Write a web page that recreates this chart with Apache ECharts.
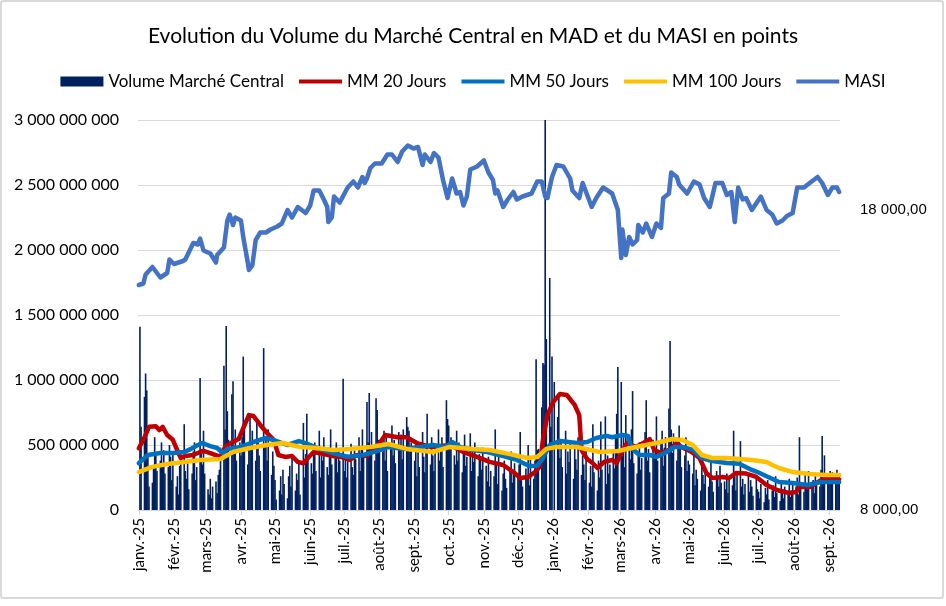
<!DOCTYPE html>
<html lang="fr">
<head>
<meta charset="utf-8">
<title>Volume du Marché Central et MASI</title>
<script src="https://cdn.jsdelivr.net/npm/echarts@6.0.0/dist/echarts.min.js"></script>
</head>
<body style="margin:0;background:#fff;width:946px;height:606px;overflow:hidden;">
<div style="position:absolute;left:0;top:0;width:940px;height:595px;border:2px solid #d9d9d9;border-radius:3px;"></div>
<div id="chart" style="position:absolute;left:0;top:0;width:946px;height:606px;"></div>
<script>
// volumes journaliers en millions de MAD, un tableau par mois (jours ouvrés)
var volume2025 = [
  [null, 1410, 640, 870, 1050, 920, 420, 180, 210, 330, 560, 440, 300, 380, 520, 350, 460, 280, 330, 500, 410, 230, 450],
  [180, 260, 120, 340, 410, 660, 300, 240, 380, 160, 280, 450, 520, 230, 330, 1015, 470, 350, 610, 280],
  [160, 120, 240, 90, 180, 220, 130, 270, 310, 480, 1110, 620, 1415, 760, 540, 890, 990, 450, 620, 380, 520],
  [420, 560, 1180, 680, 350, 520, 740, 460, 610, 380, 700, 540, 420, 300, 1245, 480, 560, 380, 620, 270, 450, 340],
  [230, 80, 150, 260, 120, 310, 200, 90, 260, 340, 180, 410, 150, 280, 230, 360, 120, 670, 250, 430, 740, 380],
  [360, 280, 450, 520, 300, 610, 250, 420, 380, 560, 330, 270, 480, 620, 350, 400, 520, 290, 460, 380, 1010],
  [300, 420, 250, 380, 510, 330, 270, 460, 390, 560, 300, 480, 620, 410, 830, 520, 900, 470, 600, 380, 860, 770, 540],
  [520, 450, 610, 380, 560, 300, 480, 650, 420, 540, 360, 600, 470, 580, 390, 620, 715, 640, 610, 450, 520],
  [380, 520, 260, 450, 330, 600, 410, 290, 480, 740, 350, 560, 420, 300, 510, 620, 380, 470, 560, 330, 845, 700],
  [650, 480, 560, 420, 350, 610, 380, 520, 290, 460, 580, 340, 410, 590, 300, 450, 370, 520, 260, 430, 390, 310, 480],
  [340, 220, 410, 180, 300, 260, 620, 350, 200, 430, 150, 280, 380, 240, 170, 320, 450, 210, 290, 360],
  [280, 350, 600, 230, 180, 320, 260, 500, 190, 410, 240, 380, 1160, 460, 470, 790, 1130, 1120, 3000, 1315, 1785, 640, 1180]
];
var volume2026 = [
  [null, 985, 715, 900, 400, 520, 330, 610, 280, 450, 370, 520, 240, 480, 390, 310, 560, 270, 420, 350, 230, 460],
  [210, 340, 180, 660, 290, 150, 380, 250, 680, 310, 720, 200, 420, 280, 350, 450, 320, 560, 740, 1100],
  [985, 420, 560, 330, 730, 480, 390, 620, 915, 360, 280, 450, 520, 310, 400, 600, 845, 380, 470, 290, 540, 420],
  [450, 720, 380, 520, 610, 340, 480, 560, 780, 1300, 620, 440, 590, 380, 510, 650, 470, 330, 420, 560, 300, 380],
  [350, 280, 420, 190, 310, 240, 150, 360, 270, 200, 330, 180, 260, 390, 220, 140, 300, 250, 180, 340, 210],
  [220, 160, 280, 130, 240, 190, 610, 260, 150, 300, 530, 180, 240, 120, 200, 270, 140, 230, 180, 110, 250, 160],
  [140, 90, 200, 60, 170, 120, 230, 80, 150, 190, 100, 260, 130, 70, 210, 160, 90, 180, 120, 240, 100, 150, 200],
  [180, 250, 120, 560, 200, 140, 280, 210, 160, 300, 190, 230, 130, 270, 220, 180, 310, 570, 240, 420, 260],
  [280, 300, 250, 290, 230, 310, 270, 260]
];

// moyennes mobiles (millions MAD) et MASI (points) : [jours depuis le 1er janv. 2025, valeur]
var mm20 = [[0,475],[4,540],[9,640],[15,645],[18,615],[21,640],[25,577],[30,540],[33,477],[37,400],[41,415],[48,423],[54,446],[57,455],[63,438],[72,408],[76,485],[81,515],[88,546],[92,630],[97,730],[101,723],[107,654],[113,592],[119,538],[123,423],[129,408],[135,415],[140,370],[145,360],[149,400],[154,446],[163,430],[171,415],[178,408],[186,385],[192,423],[201,415],[210,485],[217,577],[228,560],[236,560],[245,515],[257,485],[274,500],[286,446],[298,408],[309,370],[321,346],[330,292],[336,246],[343,254],[349,292],[353,330],[356,538],[360,730],[365,830],[371,892],[377,885],[382,830],[384,808],[388,730],[390,462],[395,392],[400,360],[404,323],[410,370],[417,385],[421,360],[425,438],[430,515],[438,485],[446,523],[450,546],[454,462],[460,438],[467,462],[474,515],[478,485],[487,446],[494,400],[500,285],[505,246],[514,254],[520,246],[526,285],[535,280],[544,254],[553,192],[562,154],[573,131],[579,138],[582,177],[591,177],[601,230],[610,246],[617,235]];
var mm50 = [[0,360],[8,423],[19,438],[30,438],[40,446],[46,470],[52,500],[56,515],[63,492],[69,477],[74,438],[78,470],[90,485],[101,523],[112,554],[119,538],[131,500],[141,530],[147,515],[157,477],[171,438],[184,410],[198,423],[213,462],[220,485],[233,470],[248,485],[259,500],[270,485],[276,523],[283,485],[294,462],[307,446],[321,415],[333,385],[344,338],[351,340],[356,400],[362,500],[371,530],[386,515],[395,523],[403,554],[412,570],[417,560],[426,577],[431,570],[434,477],[441,423],[450,423],[456,408],[465,446],[472,485],[479,485],[488,462],[496,400],[505,377],[518,362],[529,355],[540,308],[545,292],[553,260],[564,215],[576,208],[589,192],[601,215],[617,215]];
var mm100 = [[0,292],[11,330],[25,354],[40,370],[54,385],[72,392],[83,446],[98,477],[113,500],[127,515],[142,485],[157,477],[171,462],[186,470],[204,485],[220,508],[236,470],[259,446],[274,485],[294,470],[309,462],[327,430],[342,400],[351,408],[359,470],[368,485],[386,485],[406,446],[422,454],[438,485],[456,515],[470,546],[479,538],[488,500],[496,423],[505,400],[518,400],[529,392],[540,385],[553,370],[558,346],[564,323],[576,292],[591,277],[605,270],[617,270]];
var masi = [[0,15500],[4,15550],[6,15850],[12,16100],[19,15750],[25,15900],[27,16350],[31,16200],[39,16300],[41,16350],[48,16900],[52,16850],[54,17050],[57,16650],[63,16550],[68,16250],[69,16500],[75,16750],[78,17650],[80,17850],[83,17500],[85,17750],[90,17650],[92,17100],[96,16250],[97,16000],[100,16150],[103,17000],[107,17250],[112,17250],[116,17350],[122,17450],[126,17550],[131,18000],[135,17750],[140,18100],[147,17900],[151,18150],[154,18650],[159,18650],[163,18350],[166,18100],[167,17600],[170,17750],[172,18450],[177,18250],[184,18750],[189,18950],[193,18750],[197,19100],[199,18900],[201,19050],[204,19400],[208,19550],[214,19550],[219,19850],[223,19850],[228,19600],[232,19950],[237,20150],[242,20050],[246,20100],[250,19500],[252,19850],[257,19600],[260,19900],[264,19750],[268,19000],[272,18400],[276,19050],[280,18550],[283,18600],[286,18150],[289,18450],[292,19350],[298,19450],[304,19650],[308,19250],[312,19000],[314,18550],[316,18650],[321,18100],[325,18350],[330,18600],[333,18350],[338,18450],[346,18550],[351,18950],[355,18950],[358,18450],[360,18400],[364,19100],[368,19500],[374,19450],[380,19050],[382,18650],[388,18400],[391,18900],[395,18500],[399,18100],[403,18400],[409,18750],[417,18550],[422,18000],[425,16400],[426,17350],[429,16500],[432,17100],[435,16850],[439,17000],[440,17500],[444,17250],[447,17550],[452,17100],[456,17550],[460,17400],[462,18400],[467,18550],[469,19250],[474,19100],[476,18850],[483,18550],[489,18950],[494,18850],[498,18400],[503,18100],[508,18900],[514,18900],[518,18500],[522,18600],[525,17600],[528,18750],[532,18350],[535,18400],[540,18000],[548,18450],[553,18000],[558,17850],[562,17550],[567,17650],[571,17800],[576,17900],[580,18750],[586,18750],[591,18900],[598,19100],[602,18900],[607,18500],[611,18750],[615,18750],[617,18600]];

var monthNames = ['janv.', 'févr.', 'mars', 'avr.', 'mai', 'juin', 'juil.', 'août', 'sept.', 'oct.', 'nov.', 'déc.'];
var FONT = 'Lato';
var LINE_ICON = 'path://M0 0 H44 V4 H0 Z';

function dayToTime(d) { return new Date(2025, 0, 1 + d).getTime(); }
function toPoint(p) { return [dayToTime(p[0]), p[1]]; }
function spaced(n) { return String(n).replace(/\B(?=(\d{3})+(?!\d))/g, ' '); }

// place chaque valeur sur son jour ouvré
var volumeData = [];
function addVolumes(year, months) {
  months.forEach(function (vals, m) {
    var k = 0;
    var date = new Date(year, m, 1);
    while (date.getMonth() === m && k < vals.length) {
      var wd = date.getDay();
      if (wd !== 0 && wd !== 6) {
        volumeData.push([date.getTime(), vals[k]]);
        k++;
      }
      date.setDate(date.getDate() + 1);
    }
  });
}
addVolumes(2025, volume2025);
addVolumes(2026, volume2026);

var myChart = echarts.init(document.getElementById('chart'), null, { renderer: 'canvas' });

function lineSeries(name, data, color, width, axis) {
  return {
    name: name,
    type: 'line',
    yAxisIndex: axis || 0,
    data: data.map(toPoint),
    symbol: 'none',
    showSymbol: false,
    itemStyle: { color: color },
    lineStyle: { color: color, width: width, cap: 'round', join: 'round' }
  };
}

var option = {
  animation: false,
  backgroundColor: 'transparent',
  title: {
    text: 'Evolution du Volume du Marché Central en MAD et du MASI en points',
    left: 'center',
    top: 21,
    textStyle: { fontFamily: FONT, fontSize: 21, fontWeight: 'normal', color: '#000' }
  },
  legend: {
    top: 68,
    left: 'center',
    itemWidth: 43,
    itemHeight: 10,
    itemGap: 15,
    textStyle: { fontFamily: FONT, fontSize: 17, color: '#000' },
    data: [
      { name: 'Volume Marché Central', icon: 'rect' },
      { name: 'MM 20 Jours', icon: LINE_ICON },
      { name: 'MM 50 Jours', icon: LINE_ICON },
      { name: 'MM 100 Jours', icon: LINE_ICON },
      { name: 'MASI', icon: LINE_ICON }
    ]
  },
  grid: { left: 138, right: 106, top: 120, bottom: 96, containLabel: false, outerBoundsMode: 'none' },
  xAxis: {
    type: 'time',
    min: dayToTime(0),
    max: new Date(2026, 8, 10).getTime(),
    splitNumber: 20,
    axisLine: { lineStyle: { color: '#d9d9d9', width: 1 } },
    axisTick: { show: true, length: 5, lineStyle: { color: '#d9d9d9' } },
    splitLine: { show: false },
    axisLabel: {
      rotate: 90,
      margin: 8,
      color: '#000',
      fontFamily: FONT,
      fontSize: 15,
      formatter: function (v) {
        var d = new Date(v);
        return monthNames[d.getMonth()] + '-' + String(d.getFullYear()).slice(2);
      }
    }
  },
  yAxis: [
    {
      type: 'value',
      min: 0,
      max: 3000,
      interval: 500,
      axisLine: { show: false },
      axisTick: { show: false },
      splitLine: { lineStyle: { color: '#d9d9d9', width: 1 } },
      axisLabel: {
        margin: 19,
        color: '#000',
        fontFamily: FONT,
        fontSize: 16,
        formatter: function (v) { return spaced(v * 1000000); }
      }
    },
    {
      type: 'value',
      min: 8000,
      max: 21000,
      interval: 10000,
      axisLine: { show: false },
      axisTick: { show: false },
      splitLine: { show: false },
      axisLabel: {
        margin: 20,
        color: '#000',
        fontFamily: 'Liberation Sans',
        fontSize: 15,
        formatter: function (v) {
          return (v === 8000 || v === 18000) ? spaced(v) + ',00' : '';
        }
      }
    }
  ],
  series: [
    {
      name: 'Volume Marché Central',
      type: 'bar',
      data: volumeData,
      barWidth: 1.6,
      clip: true,
      itemStyle: { color: '#002060' }
    },
    lineSeries('MM 20 Jours', mm20, '#C00000', 4.5),
    lineSeries('MM 50 Jours', mm50, '#0070C0', 4.5),
    lineSeries('MM 100 Jours', mm100, '#FFC000', 4.5),
    lineSeries('MASI', masi, '#4472C4', 4.5, 1)
  ]
};

myChart.setOption(option);
window.addEventListener('resize', myChart.resize);
</script>
</body>
</html>
